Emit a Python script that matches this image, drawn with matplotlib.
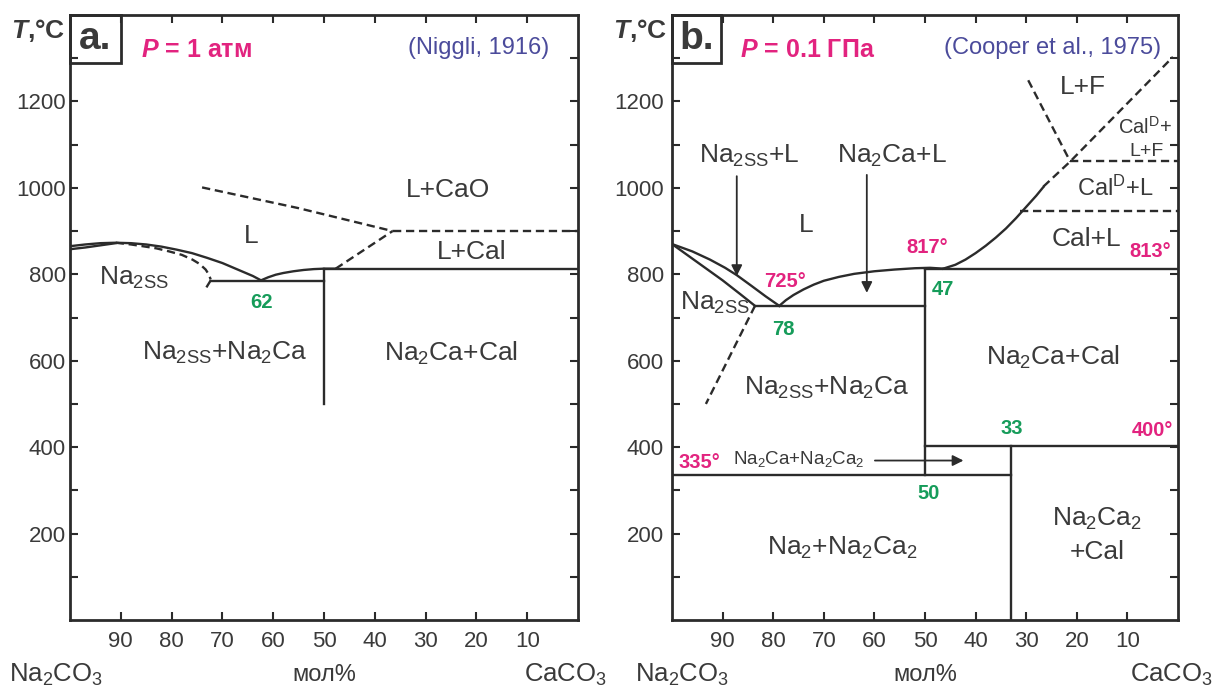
# Na2CO3 - CaCO3 phase diagrams, two panels (1 атм and 0.1 ГПа)

import numpy as np
import matplotlib
matplotlib.use('Agg')
import matplotlib.pyplot as plt
from matplotlib.patches import Rectangle

plt.rcParams['font.family'] = ['Liberation Sans', 'DejaVu Sans']
plt.rcParams['mathtext.fontset'] = 'custom'
plt.rcParams['mathtext.rm'] = 'Liberation Sans'
plt.rcParams['mathtext.it'] = 'Liberation Sans:italic:bold'
plt.rcParams['mathtext.bf'] = 'Liberation Sans:bold'

LINE = '#2b2b2b'
TXT = '#3a3a3a'
MAG = '#e2237f'
GRN = '#169c5a'
BLUE = '#4b4b9b'

# ---- panel a data (Niggli, 1916): x = axis value (mol%), T in C ----
a_liq_left_x = [100, 97, 94, 91, 88, 85, 82, 79, 76, 73, 70, 68, 66, 64, 62.4]
a_liq_left_t = [865, 869, 872, 873, 872, 869, 864, 857, 849, 838, 826, 816, 806, 796, 786]
a_sol_left_x = [100, 97, 94, 91]
a_sol_left_t = [858, 862, 867, 872]
a_solvus_x = [91, 88, 85.7, 83, 80.5, 78, 75.9, 74.5, 73.3, 72.7, 72.3]
a_solvus_t = [873, 869, 865, 860, 853, 845, 834, 824, 811, 800, 788]
a_solvus_tail_x = [72.3, 73.6]
a_solvus_tail_t = [786, 761]
a_liq_right_x = [62.4, 61, 59.5, 58, 56, 54, 52, 50, 47.7]
a_liq_right_t = [786, 793, 799, 803, 807, 810, 812, 813, 813]
a_eut_t = 785
a_eut_x = [72.3, 50]
a_cal_t = 812
a_vert_x = 50
a_vert_t = [812, 500]
a_dash1_x = [47.7, 36.5]
a_dash1_t = [813, 900]
a_dash2_x = [74, 55, 36.5]
a_dash2_t = [1001, 953, 900]
a_cao_t = 900

# ---- panel b data (Cooper et al., 1975) ----
b_liq_left_x = [100, 96, 92.5, 89.5, 87.2, 84.5, 81.5, 78.8]
b_liq_left_t = [870, 853, 834, 815, 798, 775, 749, 727]
b_sol_left_x = [100, 95, 90, 86.5, 83.6]
b_sol_left_t = [870, 828, 786, 754, 727]
b_liq_mid_x = [78.8, 77.5, 76, 74, 72, 70, 67, 64, 60, 56, 52, 49, 46.4]
b_liq_mid_t = [727, 740, 752, 765, 776, 785, 794, 801, 807, 811, 814, 815, 813]
b_liq_cal_x = [46.4, 44, 42, 40, 38, 36, 34, 32, 30, 28, 26.6]
b_liq_cal_t = [813, 822, 834, 849, 866, 885, 906, 930, 956, 982, 1002]
b_liq_dash_x = [26.6, 21.3, 1]
b_liq_dash_t = [1003, 1061, 1303]
b_lf_x = [29.6, 21.3]
b_lf_t = [1249, 1061]
b_solvus_x = [83.6, 93.3]
b_solvus_t = [727, 500]
b_eut_t = 727
b_eut_x = [83.6, 50]
b_cal_t = 812
b_cald_t = 947
b_cald_x0 = 31.2
b_lfc_t = 1061
b_lfc_x0 = 21.3
b_v50_t = [812, 335]
b_t400 = 402
b_v33_x = 33
b_t335 = 335

x_ticks = [90, 80, 70, 60, 50, 40, 30, 20, 10]
y_ticks = list(range(100, 1400, 100))
y_labels = [str(v) if v % 200 == 0 else '' for v in y_ticks]


def setup(ax, ypad):
    ax.set_xlim(100, 0)
    ax.set_ylim(0, 1400)
    ax.set_xticks(x_ticks)
    ax.set_xticklabels([str(v) for v in x_ticks])
    ax.set_yticks(y_ticks)
    ax.set_yticklabels(y_labels)
    ax.tick_params(direction='in', length=6, width=1.5, color=LINE,
                   top=True, right=True, labelsize=16, labelcolor=TXT)
    ax.tick_params(axis='x', pad=8)
    ax.tick_params(axis='y', pad=ypad)
    for s in ax.spines.values():
        s.set_linewidth(2.0)
        s.set_color(LINE)


fig = plt.figure(figsize=(12.2, 6.91), dpi=100)
axa = fig.add_axes([70 / 1220, 71 / 691, 508 / 1220, 605 / 691])
axb = fig.add_axes([672 / 1220, 71 / 691, 506 / 1220, 605 / 691])
setup(axa, 3)
setup(axb, 6)

lw = 1.7
dash = (0, (3.5, 2))

# panel a
ax = axa
ax.plot(a_liq_left_x, a_liq_left_t, color=LINE, lw=lw)
ax.plot(a_sol_left_x, a_sol_left_t, color=LINE, lw=lw)
ax.plot(a_solvus_x, a_solvus_t, color=LINE, lw=lw, ls=dash)
ax.plot(a_solvus_tail_x, a_solvus_tail_t, color=LINE, lw=lw, ls=dash)
ax.plot(a_liq_right_x, a_liq_right_t, color=LINE, lw=lw)
ax.plot(a_eut_x, [a_eut_t, a_eut_t], color=LINE, lw=lw)
ax.plot([50, 0], [a_cal_t, a_cal_t], color=LINE, lw=lw)
ax.plot([a_vert_x, a_vert_x], a_vert_t, color=LINE, lw=lw)
ax.plot(a_dash1_x, a_dash1_t, color=LINE, lw=lw, ls=dash)
ax.plot(a_dash2_x, a_dash2_t, color=LINE, lw=lw, ls=dash)
ax.plot([36.5, 0], [a_cao_t, a_cao_t], color=LINE, lw=lw, ls=dash)

fs = 19
nfs = 14.5
ax.text(25.5, 996, 'L+CaO', fontsize=fs, color=TXT, ha='center', va='center')
ax.text(64.3, 888, 'L', fontsize=fs, color=TXT, ha='center', va='center')
ax.text(21, 852, 'L+Cal', fontsize=fs, color=TXT, ha='center', va='center')
ax.text(87.4, 791, r'$\mathregular{Na_{2SS}}$', fontsize=fs, color=TXT, ha='center', va='center')
ax.text(62.4, 734, '62', fontsize=nfs, color=GRN, weight='bold', ha='center', va='center')
ax.text(69.5, 618, r'$\mathregular{Na_{2SS}{+}Na_2Ca}$', fontsize=fs, color=TXT, ha='center', va='center')
ax.text(25, 618, r'$\mathregular{Na_2Ca{+}Cal}$', fontsize=fs, color=TXT, ha='center', va='center')

# panel b
ax = axb
ax.plot(b_liq_left_x, b_liq_left_t, color=LINE, lw=lw)
ax.plot(b_sol_left_x, b_sol_left_t, color=LINE, lw=lw)
ax.plot(b_liq_mid_x, b_liq_mid_t, color=LINE, lw=lw)
ax.plot(b_liq_cal_x, b_liq_cal_t, color=LINE, lw=lw)
ax.plot(b_liq_dash_x, b_liq_dash_t, color=LINE, lw=lw, ls=dash)
ax.plot(b_lf_x, b_lf_t, color=LINE, lw=lw, ls=dash)
ax.plot(b_solvus_x, b_solvus_t, color=LINE, lw=lw, ls=dash)
ax.plot(b_eut_x, [b_eut_t, b_eut_t], color=LINE, lw=lw)
ax.plot([50, 0], [b_cal_t, b_cal_t], color=LINE, lw=lw)
ax.plot([b_cald_x0, 0], [b_cald_t, b_cald_t], color=LINE, lw=lw, ls=dash)
ax.plot([b_lfc_x0, 0], [b_lfc_t, b_lfc_t], color=LINE, lw=lw, ls=dash)
ax.plot([50, 50], b_v50_t, color=LINE, lw=lw)
ax.plot([50, 0], [b_t400, b_t400], color=LINE, lw=lw)
ax.plot([b_v33_x, b_v33_x], [b_t400, 0], color=LINE, lw=lw)
ax.plot([100, b_v33_x], [b_t335, b_t335], color=LINE, lw=lw)

arr = dict(arrowstyle='-|>', color=LINE, lw=1.3, mutation_scale=16, shrinkA=0, shrinkB=0)
ax.annotate('', xy=(87.2, 796), xytext=(87.2, 1027), arrowprops=arr)
ax.annotate('', xy=(61.5, 757), xytext=(61.5, 1030), arrowprops=arr)
ax.annotate('', xy=(42.4, 369), xytext=(59.9, 369), arrowprops=arr)

ax.text(84.8, 1073, r'$\mathregular{Na_{2SS}{+}L}$', fontsize=fs, color=TXT, ha='center', va='center')
ax.text(56.5, 1073, r'$\mathregular{Na_2Ca{+}L}$', fontsize=fs, color=TXT, ha='center', va='center')
ax.text(73.4, 913, 'L', fontsize=fs, color=TXT, ha='center', va='center')
ax.text(18.75, 1234, 'L+F', fontsize=fs, color=TXT, ha='center', va='center')
ax.text(6.6, 1142, r'$\mathregular{Cal^D{+}}$', fontsize=14.5, color=TXT, ha='center', va='center')
ax.text(6.25, 1084, 'L+F', fontsize=14, color=TXT, ha='center', va='center')
ax.text(12.5, 999, r'$\mathregular{Cal^D{+}L}$', fontsize=17, color=TXT, ha='center', va='center')
ax.text(18, 881, 'Cal+L', fontsize=fs, color=TXT, ha='center', va='center')
ax.text(91.6, 734, r'$\mathregular{Na_{2SS}}$', fontsize=fs, color=TXT, ha='center', va='center')
ax.text(24.8, 607, r'$\mathregular{Na_2Ca{+}Cal}$', fontsize=fs, color=TXT, ha='center', va='center')
ax.text(69.4, 537, r'$\mathregular{Na_{2SS}{+}Na_2Ca}$', fontsize=fs, color=TXT, ha='center', va='center')
ax.text(75, 373, r'$\mathregular{Na_2Ca{+}Na_2Ca_2}$', fontsize=13.5, color=TXT, ha='center', va='center')
ax.text(66.4, 166, r'$\mathregular{Na_2{+}Na_2Ca_2}$', fontsize=fs, color=TXT, ha='center', va='center')
ax.text(16, 235, r'$\mathregular{Na_2Ca_2}$', fontsize=fs, color=TXT, ha='center', va='center')
ax.text(16, 157, '+Cal', fontsize=fs, color=TXT, ha='center', va='center')

for s, x, y in [('813°', 5.5, 853), ('817°', 49.6, 861), ('725°', 77.7, 784),
                ('400°', 5.1, 438), ('335°', 94.5, 365)]:
    ax.text(x, y, s, fontsize=nfs, color=MAG, weight='bold', ha='center', va='center')
for s, x, y in [('47', 46.5, 765), ('78', 78, 673), ('33', 32.8, 443), ('50', 49.2, 292)]:
    ax.text(x, y, s, fontsize=nfs, color=GRN, weight='bold', ha='center', va='center')

# headers, corner boxes and bottom labels
for ax, letter, ptxt, ref, px, rx, bw in [
        (axa, 'a.', r'$\mathit{P}$ = 1 атм', '(Niggli, 1916)', 0.14, 0.943, 0.10),
        (axb, 'b.', r'$\mathit{P}$ = 0.1 ГПа', '(Cooper et al., 1975)', 0.134, 0.966, 0.097)]:
    ax.add_patch(Rectangle((0, 1 - 0.079), bw, 0.079, transform=ax.transAxes,
                           fill=False, lw=2.0, ec=LINE, clip_on=False))
    ax.text(bw / 2, 1 - 0.079 / 2, letter, transform=ax.transAxes, fontsize=28,
            weight='bold', color=TXT, ha='center', va='center')
    ax.text(px, 0.942, ptxt, transform=ax.transAxes, fontsize=18, weight='bold',
            color=MAG, ha='left', va='center')
    ax.text(rx, 0.945, ref, transform=ax.transAxes, fontsize=17, color=BLUE,
            ha='right', va='center')
    ax.text(-0.01, 0.974, r'$\mathit{T}$,°C', transform=ax.transAxes, fontsize=19,
            weight='bold', color=TXT, ha='right', va='center')
    ax.text(0.5, -0.091, 'мол%', transform=ax.transAxes, fontsize=17, color=TXT,
            ha='center', va='center')

axa.text(-0.12, -0.091, r'$\mathregular{Na_2CO_3}$', transform=axa.transAxes, fontsize=18.5,
         color=TXT, ha='left', va='center')
axa.text(0.894, -0.091, r'$\mathregular{CaCO_3}$', transform=axa.transAxes, fontsize=18.5,
         color=TXT, ha='left', va='center')
axb.text(-0.073, -0.091, r'$\mathregular{Na_2CO_3}$', transform=axb.transAxes, fontsize=18.5,
         color=TXT, ha='left', va='center')
axb.text(0.905, -0.091, r'$\mathregular{CaCO_3}$', transform=axb.transAxes, fontsize=18.5,
         color=TXT, ha='left', va='center')

fig.savefig('out.png', dpi=100)
